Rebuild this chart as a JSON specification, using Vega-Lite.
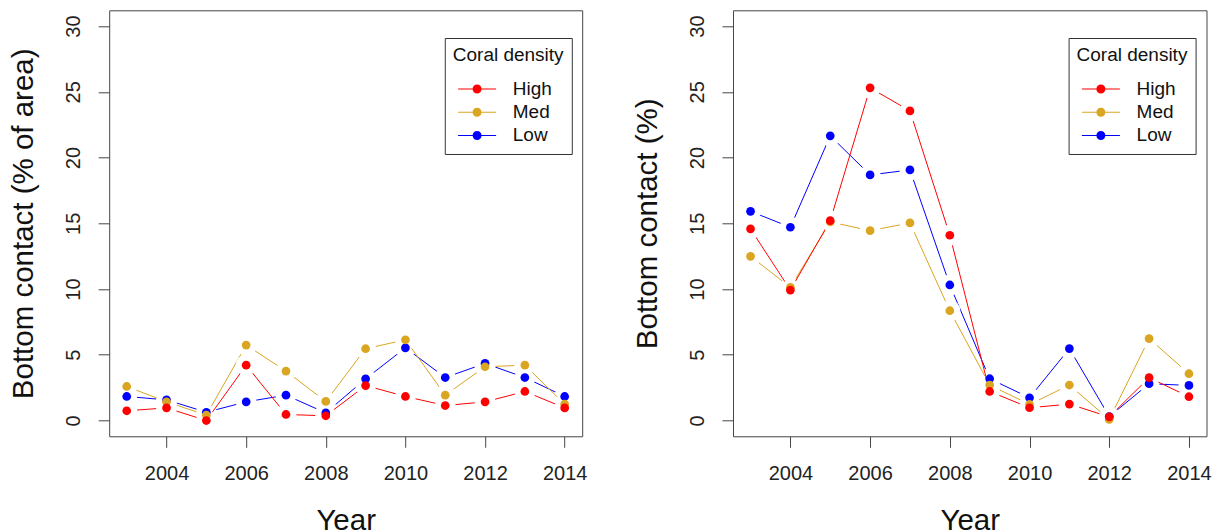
{
  "$schema": "https://vega.github.io/schema/vega-lite/v6.json",
  "padding": {"left": 7.2, "top": 9.3, "right": 5, "bottom": 0},
  "background": "white",
  "bounds": "flush",
  "spacing": 150.8,
  "datasets": {
    "left": [
      {"year": 2003, "density": "Low", "value": 1.83},
      {"year": 2004, "density": "Low", "value": 1.57},
      {"year": 2005, "density": "Low", "value": 0.63},
      {"year": 2006, "density": "Low", "value": 1.42},
      {"year": 2007, "density": "Low", "value": 1.93},
      {"year": 2008, "density": "Low", "value": 0.58},
      {"year": 2009, "density": "Low", "value": 3.17},
      {"year": 2010, "density": "Low", "value": 5.53},
      {"year": 2011, "density": "Low", "value": 3.27},
      {"year": 2012, "density": "Low", "value": 4.34},
      {"year": 2013, "density": "Low", "value": 3.27},
      {"year": 2014, "density": "Low", "value": 1.83},
      {"year": 2003, "density": "Med", "value": 2.59},
      {"year": 2004, "density": "Med", "value": 1.42},
      {"year": 2005, "density": "Med", "value": 0.41},
      {"year": 2006, "density": "Med", "value": 5.74},
      {"year": 2007, "density": "Med", "value": 3.76},
      {"year": 2008, "density": "Med", "value": 1.45},
      {"year": 2009, "density": "Med", "value": 5.46},
      {"year": 2010, "density": "Med", "value": 6.14},
      {"year": 2011, "density": "Med", "value": 1.93},
      {"year": 2012, "density": "Med", "value": 4.09},
      {"year": 2013, "density": "Med", "value": 4.21},
      {"year": 2014, "density": "Med", "value": 1.24},
      {"year": 2003, "density": "High", "value": 0.74},
      {"year": 2004, "density": "High", "value": 0.96},
      {"year": 2005, "density": "High", "value": 0.0},
      {"year": 2006, "density": "High", "value": 4.21},
      {"year": 2007, "density": "High", "value": 0.46},
      {"year": 2008, "density": "High", "value": 0.36},
      {"year": 2009, "density": "High", "value": 2.66},
      {"year": 2010, "density": "High", "value": 1.83},
      {"year": 2011, "density": "High", "value": 1.14},
      {"year": 2012, "density": "High", "value": 1.42},
      {"year": 2013, "density": "High", "value": 2.21},
      {"year": 2014, "density": "High", "value": 0.96}
    ],
    "right": [
      {"year": 2003, "density": "Low", "value": 15.91},
      {"year": 2004, "density": "Low", "value": 14.70},
      {"year": 2005, "density": "Low", "value": 21.65},
      {"year": 2006, "density": "Low", "value": 18.68},
      {"year": 2007, "density": "Low", "value": 19.06},
      {"year": 2008, "density": "Low", "value": 10.31},
      {"year": 2009, "density": "Low", "value": 3.18},
      {"year": 2010, "density": "Low", "value": 1.73},
      {"year": 2011, "density": "Low", "value": 5.47},
      {"year": 2012, "density": "Low", "value": 0.30},
      {"year": 2013, "density": "Low", "value": 2.80},
      {"year": 2014, "density": "Low", "value": 2.67},
      {"year": 2003, "density": "Med", "value": 12.49},
      {"year": 2004, "density": "Med", "value": 10.13},
      {"year": 2005, "density": "Med", "value": 15.10},
      {"year": 2006, "density": "Med", "value": 14.44},
      {"year": 2007, "density": "Med", "value": 15.03},
      {"year": 2008, "density": "Med", "value": 8.35},
      {"year": 2009, "density": "Med", "value": 2.70},
      {"year": 2010, "density": "Med", "value": 1.22},
      {"year": 2011, "density": "Med", "value": 2.70},
      {"year": 2012, "density": "Med", "value": 0.08},
      {"year": 2013, "density": "Med", "value": 6.23},
      {"year": 2014, "density": "Med", "value": 3.56},
      {"year": 2003, "density": "High", "value": 14.57},
      {"year": 2004, "density": "High", "value": 9.92},
      {"year": 2005, "density": "High", "value": 15.20},
      {"year": 2006, "density": "High", "value": 25.30},
      {"year": 2007, "density": "High", "value": 23.55},
      {"year": 2008, "density": "High", "value": 14.09},
      {"year": 2009, "density": "High", "value": 2.21},
      {"year": 2010, "density": "High", "value": 0.97},
      {"year": 2011, "density": "High", "value": 1.25},
      {"year": 2012, "density": "High", "value": 0.28},
      {"year": 2013, "density": "High", "value": 3.26},
      {"year": 2014, "density": "High", "value": 1.81}
    ]
  },
  "config": {
    "font": "Liberation Sans",
    "view": {"stroke": "#444", "strokeWidth": 1},
    "axis": {
      "grid": false, "domain": false, "tickColor": "#444", "tickSize": 11, "tickWidth": 1,
      "labelFontSize": 20, "labelColor": "#222", "titleFontSize": 29.5, "titleFontWeight": "normal", "titleColor": "#111",
      "labelFlush": false
    },
    "legend": {
      "orient": "none", "legendX": 335.6, "legendY": 27.7,
      "strokeColor": "#333", "fillColor": "white", "padding": 8,
      "titleFontSize": 19, "titleFontWeight": "normal", "titleColor": "#111", "titlePadding": 14,
      "labelFontSize": 19, "labelColor": "#111", "labelOffset": 25.7,
      "symbolType": "M-1.9,-0.05H1.9V0.05H-1.9ZM-0.45,0A0.45,0.45,0,1,1,0.45,0A0.45,0.45,0,1,1,-0.45,0Z",
      "symbolSize": 400, "symbolStrokeWidth": 0, "symbolOffset": 14.3, "rowPadding": 3.2
    }
  },
  "resolve": {"scale": {"color": "independent"}, "legend": {"color": "independent"}},
  "hconcat": [
    {
      "width": 473, "height": 426,
      "data": {"name": "left"},
      "encoding": {
        "x": {"field": "year", "type": "quantitative",
          "scale": {"domain": [2002.56, 2014.44], "nice": false, "zero": false},
          "axis": {"values": [2004, 2006, 2008, 2010, 2012, 2014], "format": "d", "title": "Year",
            "labelPadding": 15.8, "labelBaseline": "top", "titleBaseline": "top", "titleY": 70}},
        "y": {"field": "value", "type": "quantitative",
          "scale": {"domain": [-1.2, 31.2], "nice": false, "zero": false},
          "axis": {"values": [0, 5, 10, 15, 20, 25, 30], "labelAngle": -90, "labelAlign": "center", "labelBaseline": "alphabetic",
            "labelPadding": 18.8, "title": "Bottom contact (% of area)", "titleX": -76.5, "titleY": 213,
            "titleBaseline": "alphabetic", "titleAngle": -90, "titleAlign": "center"}}
      },
      "layer": [
        {"transform": [{"filter": {"field": "density", "equal": "Low"}}], "mark": {"type": "line", "strokeWidth": 1, "color": "#0000FF"}},
        {"transform": [{"filter": {"field": "density", "equal": "Low"}}], "mark": {"type": "circle", "fill": "white", "strokeWidth": 0, "fillOpacity": 1, "opacity": 1, "size": 440}},
        {"transform": [{"filter": {"field": "density", "equal": "Med"}}], "mark": {"type": "line", "strokeWidth": 1, "color": "#DAA520"}},
        {"transform": [{"filter": {"field": "density", "equal": "Med"}}], "mark": {"type": "circle", "fill": "white", "strokeWidth": 0, "fillOpacity": 1, "opacity": 1, "size": 440}},
        {"transform": [{"filter": {"field": "density", "equal": "High"}}], "mark": {"type": "line", "strokeWidth": 1, "color": "#FF0000"}},
        {"transform": [{"filter": {"field": "density", "equal": "High"}}], "mark": {"type": "circle", "fill": "white", "strokeWidth": 0, "fillOpacity": 1, "opacity": 1, "size": 440}},
        {"mark": {"type": "point", "filled": true, "size": 76, "opacity": 1},
          "encoding": {"color": {"field": "density", "type": "nominal", "scale": {"domain": ["High", "Med", "Low"], "range": ["#FF0000", "#DAA520", "#0000FF"]}, "title": "Coral density"}}}
      ]
    },
    {
      "width": 473.5, "height": 426,
      "data": {"name": "right"},
      "encoding": {
        "x": {"field": "year", "type": "quantitative",
          "scale": {"domain": [2002.56, 2014.44], "nice": false, "zero": false},
          "axis": {"values": [2004, 2006, 2008, 2010, 2012, 2014], "format": "d", "title": "Year",
            "labelPadding": 15.8, "labelBaseline": "top", "titleBaseline": "top", "titleY": 70}},
        "y": {"field": "value", "type": "quantitative",
          "scale": {"domain": [-1.2, 31.2], "nice": false, "zero": false},
          "axis": {"values": [0, 5, 10, 15, 20, 25, 30], "labelAngle": -90, "labelAlign": "center", "labelBaseline": "alphabetic",
            "labelPadding": 18.8, "title": "Bottom contact (%)", "titleX": -76.5, "titleY": 213,
            "titleBaseline": "alphabetic", "titleAngle": -90, "titleAlign": "center"}}
      },
      "layer": [
        {"transform": [{"filter": {"field": "density", "equal": "Low"}}], "mark": {"type": "line", "strokeWidth": 1, "color": "#0000FF"}},
        {"transform": [{"filter": {"field": "density", "equal": "Low"}}], "mark": {"type": "circle", "fill": "white", "strokeWidth": 0, "fillOpacity": 1, "opacity": 1, "size": 440}},
        {"transform": [{"filter": {"field": "density", "equal": "Med"}}], "mark": {"type": "line", "strokeWidth": 1, "color": "#DAA520"}},
        {"transform": [{"filter": {"field": "density", "equal": "Med"}}], "mark": {"type": "circle", "fill": "white", "strokeWidth": 0, "fillOpacity": 1, "opacity": 1, "size": 440}},
        {"transform": [{"filter": {"field": "density", "equal": "High"}}], "mark": {"type": "line", "strokeWidth": 1, "color": "#FF0000"}},
        {"transform": [{"filter": {"field": "density", "equal": "High"}}], "mark": {"type": "circle", "fill": "white", "strokeWidth": 0, "fillOpacity": 1, "opacity": 1, "size": 440}},
        {"mark": {"type": "point", "filled": true, "size": 76, "opacity": 1},
          "encoding": {"color": {"field": "density", "type": "nominal", "scale": {"domain": ["High", "Med", "Low"], "range": ["#FF0000", "#DAA520", "#0000FF"]}, "title": "Coral density"}}}
      ]
    }
  ]
}
